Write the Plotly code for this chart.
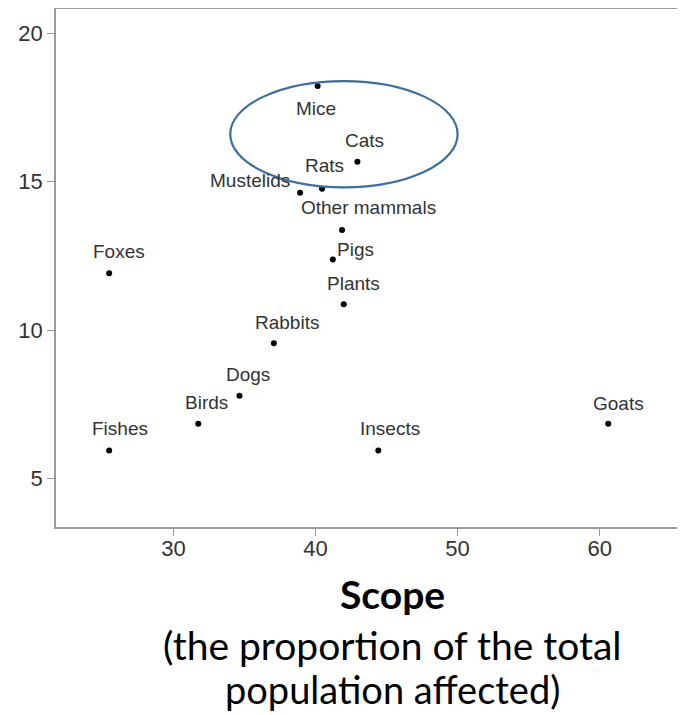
import plotly.graph_objects as go

# ---- data ----
names = ["Mice", "Cats", "Rats", "Mustelids", "Other mammals", "Pigs", "Foxes",
         "Plants", "Rabbits", "Dogs", "Birds", "Fishes", "Insects", "Goats"]
scope = [40.15, 42.95, 40.46, 38.92, 41.87, 41.22, 25.48,
         41.99, 37.07, 34.65, 31.75, 25.48, 44.42, 60.6]
severity = [18.22, 15.67, 14.76, 14.63, 13.37, 12.38, 11.91,
            10.87, 9.55, 7.78, 6.84, 5.94, 5.94, 6.84]
x_ticks = [30, 40, 50, 60]
y_ticks = [5, 10, 15, 20]
# highlighted group (ellipse) bounds in data units
highlight_x = [34.0, 50.0]
highlight_y = [14.81, 18.39]

# label offsets in pixels (repelled labels)
label_dx = [-2, 7, 2, -50, 26, 23, 10, 10, 13, 9, 8, 11, 12, 10]
label_dy = [-22, 21, 23, 12, 23, 10, 22, 21, 21, 21, 21, 22, 22, 20]

OFF = 8  # default page body margin
W, H = 685 - OFF, 715 - OFF
ML, MR, MT, MB = 48, 0, 1, 188

pw = W - ML - MR
ph = H - MT - MB

# axis ranges (x: 14.21 px/unit, 30 at fig px 165.4; y: 29.67 px/unit, 20 at fig px 25.3)
xpu, x30 = 14.21, 165.4
ypu, y20 = 29.67, 25.3
x_range = [30 - (x30 - ML) / xpu, 30 + (W - MR - x30) / xpu]
y_range = [20 - (MT + ph - y20) / ypu, 20 + (y20 - MT) / ypu]

fig = go.Figure()
fig.add_trace(go.Scatter(
    x=scope, y=severity, mode="markers",
    marker=dict(color="black", size=6),
    hoverinfo="text", text=names, showlegend=False,
))

for n, x, y, dx, dy in zip(names, scope, severity, label_dx, label_dy):
    fig.add_annotation(x=x, y=y, text=n, showarrow=False,
                       xshift=dx, yshift=dy,
                       font=dict(family="Liberation Sans", size=19, color="#333333"))

fig.add_shape(type="circle", xref="x", yref="y",
              x0=highlight_x[0], x1=highlight_x[1],
              y0=highlight_y[0], y1=highlight_y[1],
              line=dict(color="#3E6E9E", width=2.2))


def px_to_paper_x(px):
    return (px - OFF - ML) / pw


def py_to_paper_y(py):
    return (H - MB - (py - OFF)) / ph


title_font = "Lato"
fig.add_annotation(x=px_to_paper_x(392), y=py_to_paper_y(594), xref="paper", yref="paper",
                   text="<b>Scope</b>", showarrow=False, xanchor="center", yanchor="middle",
                   font=dict(family=title_font, size=39, color="black"))
fig.add_annotation(x=px_to_paper_x(392), y=py_to_paper_y(645), xref="paper", yref="paper",
                   text="(the proportion of the total", showarrow=False, xanchor="center", yanchor="middle",
                   font=dict(family=title_font, size=39, color="black"))
fig.add_annotation(x=px_to_paper_x(392), y=py_to_paper_y(689), xref="paper", yref="paper",
                   text="population affected)", showarrow=False, xanchor="center", yanchor="middle",
                   font=dict(family=title_font, size=38, color="black"))

axis_common = dict(showgrid=False, zeroline=False, showline=True,
                   linecolor="#9a9a9a", linewidth=1.5,
                   ticks="outside", ticklen=7, tickcolor="#9a9a9a", tickwidth=1.2,
                   tickfont=dict(family="Liberation Sans", size=22, color="#333333"))

fig.update_layout(
    width=W, height=H,
    margin=dict(l=ML, r=MR, t=MT, b=MB, pad=0),
    paper_bgcolor="white", plot_bgcolor="white",
    xaxis=dict(range=x_range, tickvals=x_ticks, mirror=True, ticklabelstandoff=-6,
               **axis_common),
    yaxis=dict(range=y_range, tickvals=y_ticks, mirror=False, **axis_common),
)

fig.write_html("out.html")
